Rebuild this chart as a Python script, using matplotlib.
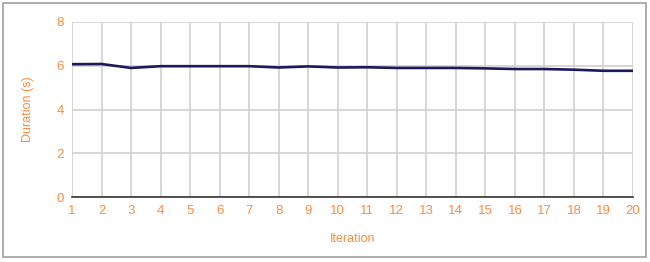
import matplotlib.pyplot as plt
from matplotlib.patches import Rectangle

iterations = list(range(1, 21))
duration = [6.07, 6.08, 5.90, 5.98, 5.98, 5.98, 5.98, 5.92, 5.97, 5.92,
            5.93, 5.90, 5.90, 5.90, 5.88, 5.85, 5.85, 5.82, 5.77, 5.77]
y_ticks = [0, 2, 4, 6, 8]

orange = '#ff8a3d'
plt.rcParams['font.family'] = ['Liberation Sans', 'DejaVu Sans']

fig = plt.figure(figsize=(6.5, 2.62), dpi=100)
ax = fig.add_axes([72 / 650, 1 - 197 / 262, (633 - 72) / 650, 175 / 262])

# outer frame
fig.patches.append(Rectangle((3 / 650, 5 / 262), 643 / 650, 254 / 262,
                             transform=fig.transFigure, fill=False,
                             edgecolor='#a0a0a0', linewidth=1.2))

ax.plot(iterations, duration, color='#1c1a5c', linewidth=1.9)

ax.set_xlim(1, 20)
ax.set_ylim(0, 8)
ax.set_xticks(iterations)
ax.set_yticks(y_ticks)
ax.grid(True, color='#d0d0d0', linewidth=1.2)
ax.set_axisbelow(True)

for side in ['top', 'right', 'left']:
    ax.spines[side].set_visible(False)
ax.spines['bottom'].set_color('#333333')
ax.spines['bottom'].set_linewidth(1.2)

ax.tick_params(length=0, colors=orange, labelsize=9.5, pad=6)
ax.set_xlabel('Iteration', color=orange, fontsize=9, labelpad=11)
ax.set_ylabel('Duration (s)', color=orange, fontsize=9, labelpad=16)

fig.savefig('out.png', dpi=100)
